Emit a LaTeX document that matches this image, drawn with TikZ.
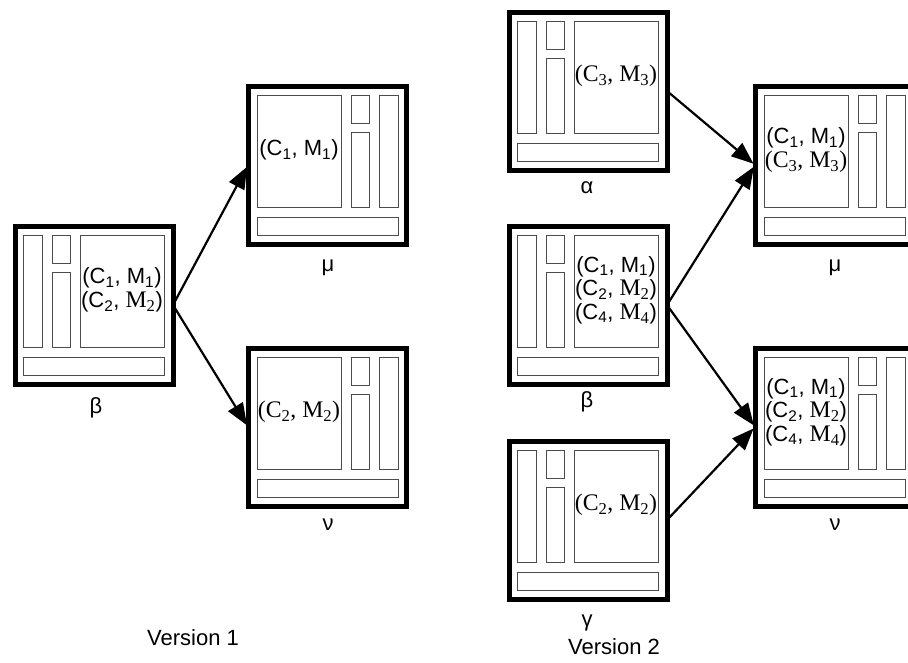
\documentclass[tikz,border=0pt]{standalone}
\usepackage{fontspec}
\setmainfont{Liberation Sans}
\newfontfamily\serifF[Scale=1.08]{Liberation Serif}
\usetikzlibrary{arrows.meta}

\newcommand\cmS[1]{(C\textsubscript{#1}, M\textsubscript{#1})}
\newcommand\cmM[1]{(C\textsubscript{#1}, {\serifF M\textsubscript{#1}})}
\newcommand\cmT[1]{{\serifF (C\textsubscript{#1}, M\textsubscript{#1})}}

\tikzset{
  outerbox/.style={draw=black, line width=5pt, minimum width=158pt, minimum height=158pt, outer sep=0pt, inner sep=0pt, anchor=north west},
  innerbox/.style={draw=black!70, line width=1pt},
  arr/.style={line width=2.2pt, -{Triangle[length=22pt,width=17pt]}, shorten >=2pt},
  boxtext/.style={align=center, inner sep=0pt, font=\fontsize{22}{23.5}\selectfont},
  lab/.style={inner sep=0pt, font=\fontsize{22}{24}\selectfont},
}

% #1 name, #2 x, #3 y, #4 mirrored? (0/1), #5 text
\newcommand\dbox[5]{%
  \node[outerbox] (#1) at (#2,#3) {};
  \ifnum#4=0
    \begin{scope}[shift={(#2,#3)}]
  \else
    \begin{scope}[shift={(#2+158,#3)}, xscale=-1]
  \fi
    \draw[innerbox] (8,9) rectangle (27,121);
    \draw[innerbox] (37,9) rectangle (55,37);
    \draw[innerbox] (37,46) rectangle (55,121);
    \draw[innerbox] (65,9) rectangle (149,121);
    \draw[innerbox] (8,131) rectangle (149,149);
  \end{scope}
  \ifnum#4=0
    \node[boxtext] (#1t) at (#2+107,#3+64) {#5};
  \else
    \node[boxtext] (#1t) at (#2+51,#3+64) {#5};
  \fi
}

\begin{document}
\begin{tikzpicture}[x=1pt,y=-1pt]
\useasboundingbox (0,0) rectangle (908,662);
\clip (0,0) rectangle (908,662);

% Version 1
\dbox{b1}{15}{226}{0}{\cmS{1}\\\cmM{2}}
\dbox{m1}{248}{86}{1}{\cmS{1}}
\dbox{n1}{248}{348}{1}{\cmT{2}}

\node[lab] (lb1) at (96,408) {β};
\node[lab] (lm1) at (328,268) {μ};
\node[lab] (ln1) at (328,525) {ν};

\draw[arr] (b1.east) -- (m1.west);
\draw[arr] (b1.east) -- (n1.west);

% Version 2
\dbox{a2}{509}{12}{0}{\cmT{3}}
\dbox{b2}{509}{226}{0}{\cmS{1}\\\cmM{2}\\\cmM{4}}
\dbox{g2}{509}{441}{0}{\cmT{2}}
\dbox{m2}{755}{86}{1}{\cmS{1}\\\cmT{3}}
\dbox{n2}{755}{348}{1}{\cmS{1}\\\cmM{2}\\\cmM{4}}

\node[lab] (la2) at (587,188) {α};
\node[lab] (lb2) at (587,402) {β};
\node[lab] (lg2) at (587,623) {γ};
\node[lab] (lm2) at (835,268) {μ};
\node[lab] (ln2) at (835,525) {ν};

\draw[arr] (a2.east) -- (m2.west);
\draw[arr] (b2.east) -- (m2.west);
\draw[arr] (b2.east) -- (n2.west);
\draw[arr] (g2.east) -- (n2.west);

\node[lab] (v1) at (193,638) {Version 1};
\node[lab] (v2) at (614,647) {Version 2};
\end{tikzpicture}
\end{document}
